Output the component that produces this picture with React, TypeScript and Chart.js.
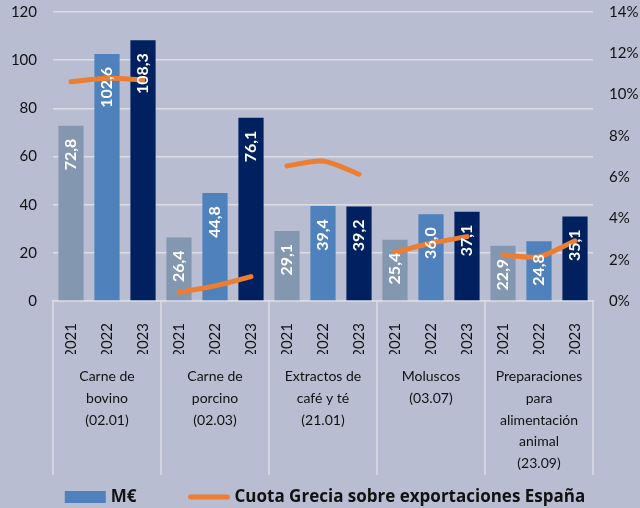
import React, { useEffect, useRef } from 'react';
import { Chart, registerables } from 'chart.js';

Chart.register(...registerables);

// ---------- data ----------
const years = ['2021', '2022', '2023', '2021', '2022', '2023', '2021', '2022', '2023', '2021', '2022', '2023', '2021', '2022', '2023'];
const groupLabels = [
  ['Carne de', 'bovino', '(02.01)'],
  ['Carne de', 'porcino', '(02.03)'],
  ['Extractos de', 'café y té', '(21.01)'],
  ['Moluscos', '(03.07)'],
  ['Preparaciones', 'para', 'alimentación', 'animal', '(23.09)'],
];
const valuesMEUR = [72.8, 102.6, 108.3, 26.4, 44.8, 76.1, 29.1, 39.4, 39.2, 25.4, 36.0, 37.1, 22.9, 24.8, 35.1];
const shareBovino = [10.62, 10.79, 10.71];
const sharePorcino = [0.42, 0.73, 1.18];
const shareCafe = [6.54, 6.78, 6.14];
const shareMoluscos = [2.36, 2.8, 3.12];
const sharePiensos = [2.23, 2.15, 2.92];
const shareSeries = [shareBovino, sharePorcino, shareCafe, shareMoluscos, sharePiensos];
const leftTicksMax = 120;
const rightTicksMax = 14;
const legendLabels = ['M€', 'Cuota Grecia sobre exportaciones España'];

// ---------- style ----------
const BG = '#b8bdd2';
const BAR_COLORS = ['#8497B0', '#4F81BD', '#002060'];
const ORANGE = '#ED7D31';
const GRID = '#dcdde3';
const TEXT = '#111111';
const FONT = 'Lato';
const LEGEND_FONT = 'Open Sans';

const dataLabelPlugin = {
  id: 'barValueLabels',
  afterDatasetsDraw(chart: any) {
    const meta = chart.getDatasetMeta(0);
    const ctx = chart.ctx;
    ctx.save();
    ctx.fillStyle = '#ffffff';
    ctx.font = `bold 16px ${FONT}`;
    ctx.textAlign = 'right';
    ctx.textBaseline = 'middle';
    meta.data.forEach((el: any, i: number) => {
      const txt = valuesMEUR[i].toFixed(1).replace('.', ',');
      ctx.save();
      ctx.translate(el.x, el.y + 13);
      ctx.rotate(-Math.PI / 2);
      ctx.fillText(txt, 0, 0);
      ctx.restore();
    });
    ctx.restore();
  },
};

const separatorPlugin = {
  id: 'groupSeparators',
  afterDraw(chart: any) {
    const xs = chart.scales.x;
    const x2 = chart.scales.x2;
    const ctx = chart.ctx;
    const half = (xs.getPixelForValue(1) - xs.getPixelForValue(0)) / 2;
    ctx.save();
    ctx.strokeStyle = GRID;
    ctx.lineWidth = 1.5;
    for (let g = 0; g <= groupLabels.length; g++) {
      const idx = g * 3;
      const x = idx < years.length ? xs.getPixelForValue(idx) - half : xs.getPixelForValue(years.length - 1) + half;
      ctx.beginPath();
      ctx.moveTo(x, xs.top);
      ctx.lineTo(x, x2.bottom - 6);
      ctx.stroke();
    }
    ctx.restore();
  },
};

const legendPlugin = {
  id: 'customLegend',
  afterDraw(chart: any) {
    const ctx = chart.ctx;
    const ca = chart.chartArea;
    const y = chart.height - 11;
    ctx.save();
    ctx.font = `bold 17px ${LEGEND_FONT}`;
    const w1 = ctx.measureText(legendLabels[0]).width;
    const w2 = ctx.measureText(legendLabels[1]).width;
    const box = 41, gapText = 5, gapItems = 52;
    const total = box + gapText + w1 + gapItems + box + gapText + w2;
    let x = (ca.left + ca.right) / 2 - total / 2 + 2;
    ctx.fillStyle = BAR_COLORS[1];
    ctx.fillRect(x, y - 6, box, 12);
    x += box + gapText;
    ctx.fillStyle = TEXT;
    ctx.textAlign = 'left';
    ctx.textBaseline = 'middle';
    ctx.fillText(legendLabels[0], x, y);
    x += w1 + gapItems;
    ctx.strokeStyle = ORANGE;
    ctx.lineWidth = 5;
    ctx.lineCap = 'round';
    ctx.beginPath();
    ctx.moveTo(x + 2, y);
    ctx.lineTo(x + box - 2, y);
    ctx.stroke();
    x += box + gapText;
    ctx.fillText(legendLabels[1], x, y);
    ctx.restore();
  },
};

export default function App() {
  const ref = useRef<HTMLCanvasElement>(null);
  useEffect(() => {
    if (!ref.current) return;
    const lineDatasets = shareSeries.map((s, g) => ({
      type: 'line' as const,
      label: legendLabels[1],
      data: years.map((_, i) => (Math.floor(i / 3) === g ? s[i % 3] : null)),
      yAxisID: 'y1',
      borderColor: ORANGE,
      backgroundColor: ORANGE,
      borderWidth: 5,
      tension: 0.3,
      pointRadius: 0,
      borderCapStyle: 'round' as const,
      spanGaps: false,
      order: 0,
    }));
    const chart = new Chart(ref.current, {
      type: 'bar',
      data: {
        labels: years,
        datasets: [
          {
            type: 'bar',
            label: legendLabels[0],
            data: valuesMEUR,
            backgroundColor: years.map((_, i) => BAR_COLORS[i % 3]),
            categoryPercentage: 1,
            barPercentage: 0.7,
            yAxisID: 'y',
            order: 1,
          } as any,
          ...lineDatasets,
        ],
      },
      options: {
        responsive: true,
        maintainAspectRatio: false,
        animation: false,
        layout: { padding: { top: 12, bottom: 27, left: 0, right: 0 } },
        plugins: { legend: { display: false }, tooltip: { enabled: false } },
        scales: {
          x: {
            position: 'bottom',
            weight: 0,
            grid: { display: false },
            border: { display: true, color: GRID, width: 1.5 },
            ticks: {
              autoSkip: false,
              maxRotation: 90,
              minRotation: 90,
              padding: 14,
              color: TEXT,
              font: { family: FONT, size: 15 },
            },
            afterFit: (s: any) => { s.height = 53; },
          },
          x2: {
            type: 'category',
            position: 'bottom',
            weight: 1,
            labels: groupLabels as any,
            offset: true,
            grid: { display: false },
            border: { display: false },
            ticks: {
              autoSkip: false,
              maxRotation: 0,
              minRotation: 0,
              padding: 4,
              color: TEXT,
              font: { family: FONT, size: 14, lineHeight: 1.55 },
            },
            afterFit: (s: any) => { s.height = 127; },
          },
          y: {
            position: 'left',
            min: 0,
            max: leftTicksMax,
            ticks: { stepSize: 20, padding: 0, color: TEXT, font: { family: FONT, size: 15 } },
            grid: { color: GRID, lineWidth: 1.5, drawTicks: true, tickLength: 16, tickColor: 'rgba(0,0,0,0)' },
            border: { display: false },
            afterFit: (s: any) => { s.width = 53; },
          },
          y1: {
            position: 'right',
            min: 0,
            max: rightTicksMax,
            ticks: { stepSize: 2, padding: 0, color: TEXT, font: { family: FONT, size: 15 }, callback: (v: any) => `${v}%` },
            grid: { drawOnChartArea: false, drawTicks: true, tickLength: 16, tickColor: 'rgba(0,0,0,0)' },
            border: { display: false },
            afterFit: (s: any) => { s.width = 47; },
          },
        },
      } as any,
      plugins: [dataLabelPlugin, separatorPlugin, legendPlugin],
    });
    return () => chart.destroy();
  }, []);
  return (
    <div style={{ position: 'fixed', left: 0, top: 0, width: 640, height: 508, background: BG }}>
      <canvas ref={ref} />
    </div>
  );
}
